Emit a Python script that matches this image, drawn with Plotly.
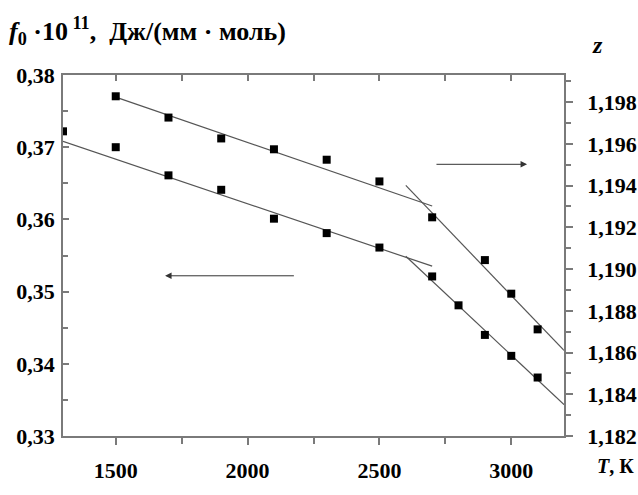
import plotly.graph_objects as go

# ---- data ----
T_z = [1500, 1700, 1900, 2100, 2300, 2500, 2700, 2900, 3000, 3100]
z_vals = [1.19828, 1.19726, 1.19626, 1.19574, 1.19524, 1.19420, 1.19248, 1.19043, 1.18882, 1.18711]

T_f = [1300, 1500, 1700, 1900, 2100, 2300, 2500, 2700, 2800, 2900, 3000, 3100]
f_vals = [0.3722, 0.3700, 0.3661, 0.3641, 0.3601, 0.3581, 0.3561, 0.3521, 0.3481, 0.3440, 0.3411, 0.3381]

# fitted straight segments (endpoints)
z_fit1_T = [1500, 2700]
z_fit1 = [1.19824, 1.19302]
z_fit2_T = [2600, 3200]
z_fit2 = [1.19401, 1.18610]
f_fit1_T = [1300, 2700]
f_fit1 = [0.37082, 0.35352]
f_fit2_T = [2600, 3200]
f_fit2 = [0.35489, 0.33434]

x_ticks = [1500, 2000, 2500, 3000]
x_ticklabels = ["1500", "2000", "2500", "3000"]
f_ticks = [0.33, 0.34, 0.35, 0.36, 0.37, 0.38]
f_ticklabels = ["0,33", "0,34", "0,35", "0,36", "0,37", "0,38"]
z_ticks = [1.182, 1.184, 1.186, 1.188, 1.190, 1.192, 1.194, 1.196, 1.198]
z_ticklabels = ["1,182", "1,184", "1,186", "1,188", "1,190", "1,192", "1,194", "1,196", "1,198"]

FONT = "Liberation Serif"
AX = "#7a7a7a"
LINE = "#555555"


def bold(labels):
    return ["<b>" + s + "</b>" for s in labels]


fig = go.Figure()

for tx, ty in [(z_fit1_T, z_fit1), (z_fit2_T, z_fit2)]:
    fig.add_trace(go.Scatter(x=tx, y=ty, mode="lines", yaxis="y2",
                             line=dict(color=LINE, width=1.2), hoverinfo="skip", showlegend=False))
for tx, ty in [(f_fit1_T, f_fit1), (f_fit2_T, f_fit2)]:
    fig.add_trace(go.Scatter(x=tx, y=ty, mode="lines", yaxis="y",
                             line=dict(color=LINE, width=1.2), hoverinfo="skip", showlegend=False))

fig.add_trace(go.Scatter(x=T_z, y=z_vals, mode="markers", yaxis="y2",
                         marker=dict(symbol="square", size=8, color="black"), showlegend=False))
fig.add_trace(go.Scatter(x=T_f, y=f_vals, mode="markers", yaxis="y",
                         marker=dict(symbol="square", size=8, color="black"), showlegend=False))

# dummy trace to show the top axis
fig.add_trace(go.Scatter(x=[1300], y=[0.33], xaxis="x2", yaxis="y", mode="markers",
                         marker=dict(opacity=0), hoverinfo="skip", showlegend=False))

tickfont = dict(family=FONT, size=22, color="black")

fig.update_layout(
    width=638, height=495,
    margin=dict(l=63, r=74, t=75, b=55),
    paper_bgcolor="white", plot_bgcolor="white",
    showlegend=False,
    xaxis=dict(range=[1300, 3200], tickvals=x_ticks, ticktext=bold(x_ticklabels),
               ticks="outside", ticklen=7, tickwidth=1.5, tickcolor=AX,
               showline=True, linecolor=AX, linewidth=1.5, showgrid=False, zeroline=False,
               minor=dict(dtick=250, ticks="outside", ticklen=6, tickwidth=1.5, tickcolor=AX, showgrid=False),
               tickfont=tickfont, ticklabelstandoff=7),
    xaxis2=dict(range=[1300, 3200], overlaying="x", side="top", showticklabels=False,
                tickvals=x_ticks, ticks="inside", ticklen=6, tickwidth=1.5, tickcolor=AX,
                showline=True, linecolor=AX, linewidth=1.5, showgrid=False, zeroline=False,
                minor=dict(dtick=250, ticks="inside", ticklen=6, tickwidth=1.5, tickcolor=AX, showgrid=False)),
    yaxis=dict(range=[0.33, 0.38], tickvals=f_ticks, ticktext=bold(f_ticklabels), automargin=False,
               ticks="inside", ticklen=6, tickwidth=1.5, tickcolor=AX,
               showline=True, linecolor=AX, linewidth=1.5, showgrid=False, zeroline=False,
               minor=dict(dtick=0.005, ticks="inside", ticklen=5, tickwidth=1.5, tickcolor=AX, showgrid=False),
               tickfont=tickfont, ticklabelstandoff=2),
    yaxis2=dict(range=[1.182, 1.1993], overlaying="y", side="right", anchor="x", automargin=False,
                tickvals=z_ticks, ticktext=bold(z_ticklabels),
                ticks="outside", ticklen=7, tickwidth=1.5, tickcolor=AX,
                showline=True, linecolor=AX, linewidth=1.5, showgrid=False, zeroline=False,
                minor=dict(dtick=0.001, ticks="outside", ticklen=5, tickwidth=1.5, tickcolor=AX, showgrid=False),
                tickfont=tickfont, ticklabelstandoff=10),
)

# arrows indicating which axis each series uses
fig.add_annotation(x=3060, y=1.19502, ax=2705, ay=1.19502, xref="x", yref="y2", axref="x", ayref="y2",
                   showarrow=True, arrowhead=2, arrowsize=1.3, arrowwidth=1, arrowcolor="#333333", text=" ")
fig.add_annotation(x=1687, y=0.35219, ax=2187, ay=0.35219, xref="x", yref="y", axref="x", ayref="y",
                   showarrow=True, arrowhead=2, arrowsize=1.3, arrowwidth=1, arrowcolor="#333333", text=" ")

# axis titles
fig.add_annotation(xref="paper", yref="paper", x=-56 / 501, y=1 + 44 / 365, xanchor="left", yanchor="middle",
                   text="<b><i>f</i><sub>0</sub> ·10<sup> 11</sup>,  Дж/(мм · моль)</b>", showarrow=False,
                   font=dict(family=FONT, size=26, color="black"))
fig.add_annotation(xref="paper", yref="paper", x=(597 - 63) / 501, y=1 + 30 / 365, xanchor="center", yanchor="middle",
                   text="<b><i>z</i></b>", showarrow=False, font=dict(family=FONT, size=24, color="black"))
fig.add_annotation(xref="paper", yref="paper", x=(615 - 63) / 501, y=-30 / 365, xanchor="center", yanchor="middle",
                   text="<b><i>T</i>, К</b>", showarrow=False, font=dict(family=FONT, size=20, color="black"))

fig.write_html("out.html")
